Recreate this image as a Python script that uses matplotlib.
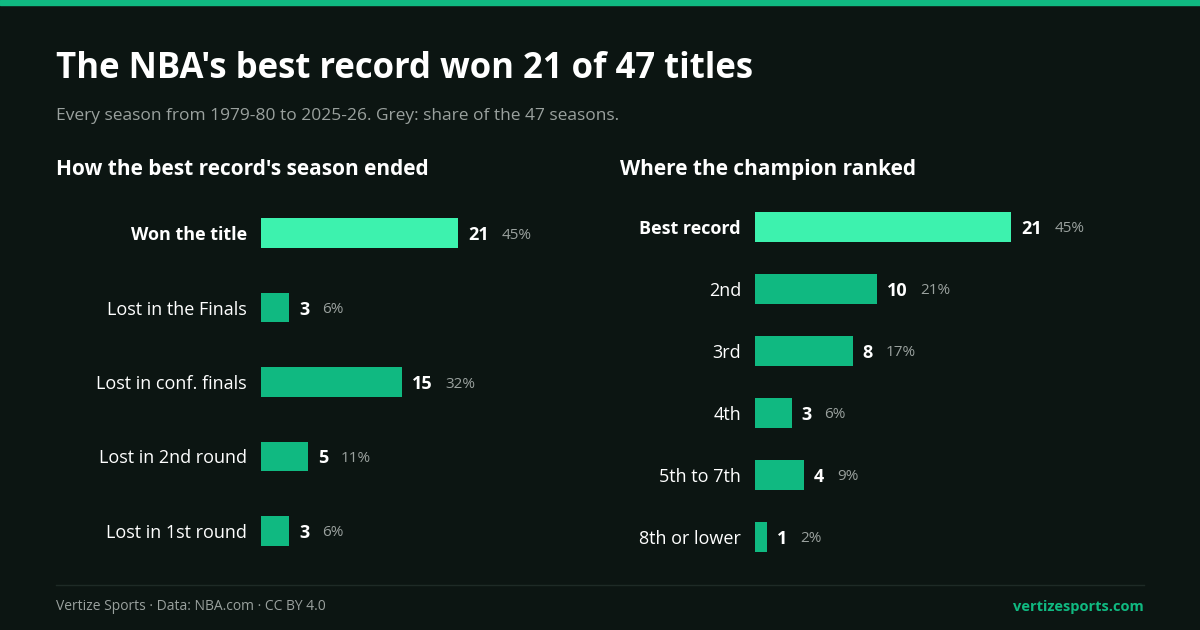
import matplotlib.pyplot as plt
from matplotlib.patches import Rectangle
from matplotlib.lines import Line2D

plt.rcParams['font.family'] = ['Open Sans', 'DejaVu Sans']

bg = "#0c1512"
hi = "#3df2ae"
base = "#10b981"
grey = "#9aa19e"

outcome_labels = ["Won the title", "Lost in the Finals", "Lost in conf. finals",
                  "Lost in 2nd round", "Lost in 1st round"]
outcome_counts = [21, 3, 15, 5, 3]
outcome_pcts = ["45%", "6%", "32%", "11%", "6%"]

rank_labels = ["Best record", "2nd", "3rd", "4th", "5th to 7th", "8th or lower"]
rank_counts = [21, 10, 8, 3, 4, 1]
rank_pcts = ["45%", "21%", "17%", "6%", "9%", "2%"]

W, H = 1200, 630
fig = plt.figure(figsize=(12, 6.3), dpi=100, facecolor=bg)

fig.patches.append(Rectangle((0, 1 - 5 / H), 1, 5 / H, transform=fig.transFigure,
                             color=base, zorder=5))
fig.lines.append(Line2D([56 / W, 1144 / W], [1 - 585 / H] * 2, transform=fig.transFigure,
                        color="#1e2a26", lw=1))

fig.text(56 / W, 1 - 69 / H, "The NBA's best record won 21 of 47 titles",
         color="white", fontsize=25, fontweight="bold", va="center")
fig.text(56 / W, 1 - 116 / H, "Every season from 1979-80 to 2025-26. Grey: share of the 47 seasons.",
         color=grey, fontsize=12.5, va="center")
fig.text(56 / W, 1 - 170 / H, "How the best record's season ended",
         color="white", fontsize=15, fontweight="bold", va="center")
fig.text(620 / W, 1 - 170 / H, "Where the champion ranked",
         color="white", fontsize=15, fontweight="bold", va="center")
fig.text(56 / W, 1 - 607 / H, "Vertize Sports · Data: NBA.com · CC BY 4.0",
         color=grey, fontsize=10, va="center")
fig.text(1144 / W, 1 - 607 / H, "vertizesports.com",
         color=base, fontsize=10.5, fontweight="bold", va="center", ha="right")


def panel(x0, width_px, labels, counts, pcts, bar_h):
    ax = fig.add_axes([x0 / W, 1 - 568 / H, width_px / W, 372 / H])
    ax.set_facecolor(bg)
    n = len(labels)
    ys = list(range(n))
    colors = [hi] + [base] * (n - 1)
    ax.barh(ys, counts, height=bar_h, color=colors)
    ax.set_xlim(0, 30)
    ax.set_ylim(n - 0.5, -0.5)
    ax.axis("off")
    for i, (lab, c, p) in enumerate(zip(labels, counts, pcts)):
        ax.annotate(lab, (0, i), xytext=(-14, -2), textcoords="offset pixels",
                    ha="right", va="center", color="white", fontsize=13,
                    fontweight="bold" if i == 0 else "normal")
        ax.annotate(str(c), (c, i), xytext=(10, -2), textcoords="offset pixels",
                    ha="left", va="center", color="white", fontsize=13, fontweight="bold")
        ax.annotate(p, (c, i), xytext=(23 + 10 * len(str(c)), -2), textcoords="offset pixels",
                    ha="left", va="center", color=grey, fontsize=11)
    return ax


panel(261, 282, outcome_labels, outcome_counts, outcome_pcts, 0.4)
panel(755, 366, rank_labels, rank_counts, rank_pcts, 0.48)

fig.savefig("out.png", dpi=100, facecolor=bg)
